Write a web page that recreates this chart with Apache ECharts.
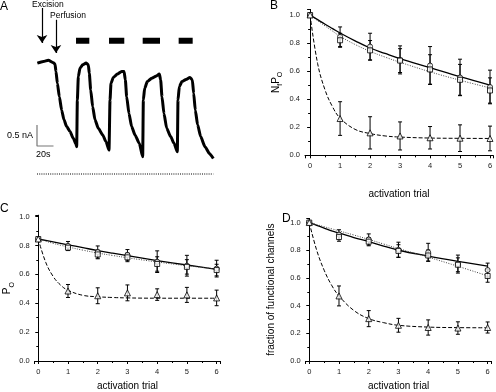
<!DOCTYPE html>
<html>
<head>
<meta charset="utf-8">
<script src="https://cdn.jsdelivr.net/npm/echarts@6/dist/echarts.min.js"></script>
<style>
html, body { margin: 0; padding: 0; background: #fff; }
#main { width: 496px; height: 392px; }
</style>
</head>
<body>
<div id="main"></div>
<script>
// ---- data ----
var trials = [0, 1, 2, 3, 4, 5, 6];
var fitX = [0, 0.25, 0.5, 0.75, 1, 1.5, 2, 2.5, 3, 4, 5, 6];

// B: NfPo
var bCircle = [1.0, 0.845, 0.775, 0.68, 0.64, 0.555, 0.487];
var bCircleErr = [0, 0.07, 0.095, 0.1, 0.135, 0.13, 0.12];
var bSquare = [1.0, 0.82, 0.748, 0.675, 0.612, 0.538, 0.462];
var bSquareErr = [0, 0.05, 0.07, 0.085, 0.105, 0.11, 0.09];
var bTri = [1.0, 0.262, 0.16, 0.138, 0.125, 0.122, 0.12];
var bTriErr = [0, 0.12, 0.115, 0.1, 0.08, 0.095, 0.088];
var bFitSolid = [1.0, 0.967, 0.934, 0.903, 0.872, 0.816, 0.765, 0.726, 0.689, 0.625, 0.56, 0.50];
var bFitDot = [1.0, 0.96, 0.922, 0.885, 0.848, 0.79, 0.741, 0.70, 0.663, 0.595, 0.535, 0.48];
var bFitDash = [1.0, 0.655, 0.465, 0.345, 0.265, 0.185, 0.155, 0.138, 0.13, 0.123, 0.121, 0.12];

// C: Po
var cCircle = [0.845, 0.798, 0.755, 0.735, 0.688, 0.66, 0.64];
var cCircleErr = [0, 0.03, 0.042, 0.037, 0.075, 0.072, 0.058];
var cSquare = [0.845, 0.785, 0.738, 0.718, 0.672, 0.652, 0.63];
var cSquareErr = [0, 0.02, 0.03, 0.03, 0.05, 0.05, 0.04];
var cTri = [0.845, 0.485, 0.452, 0.472, 0.46, 0.458, 0.437];
var cTriErr = [0, 0.045, 0.055, 0.055, 0.04, 0.052, 0.054];
var cFitSolid = [0.845, 0.835, 0.825, 0.815, 0.805, 0.785, 0.765, 0.747, 0.73, 0.696, 0.665, 0.635];
var cFitDot = [0.845, 0.83, 0.815, 0.802, 0.79, 0.768, 0.748, 0.731, 0.715, 0.686, 0.66, 0.637];
var cFitDash = [0.845, 0.684, 0.586, 0.526, 0.49, 0.455, 0.445, 0.44, 0.437, 0.435, 0.435, 0.435];

// D: fraction of functional channels
var dCircle = [1.0, 0.913, 0.878, 0.803, 0.785, 0.70, 0.657];
var dCircleErr = [0, 0.035, 0.04, 0.055, 0.065, 0.065, 0.05];
var dSquare = [1.0, 0.895, 0.862, 0.795, 0.762, 0.695, 0.614];
var dSquareErr = [0, 0.03, 0.03, 0.045, 0.04, 0.05, 0.045];
var dTri = [1.0, 0.47, 0.306, 0.258, 0.242, 0.238, 0.242];
var dTriErr = [0, 0.072, 0.058, 0.05, 0.055, 0.045, 0.04];
var dFitSolid = [1.0, 0.98, 0.96, 0.94, 0.925, 0.892, 0.862, 0.83, 0.80, 0.758, 0.72, 0.685];
var dFitDot = [1.0, 0.985, 0.97, 0.955, 0.94, 0.91, 0.878, 0.845, 0.812, 0.75, 0.684, 0.615];
var dFitDash = [1.0, 0.80, 0.656, 0.548, 0.47, 0.365, 0.306, 0.277, 0.258, 0.245, 0.241, 0.24];

// A: current trace (s, nA)
var traceT = [0.4, 7.7, 13.7, 19.8, 21.8, 23.0, 24.7, 27.1, 29.9, 32.7, 36.0, 40.0, 44.0, 47.3, 48.1,
  48.9, 50.1, 52.1, 55.4, 59.4, 62.2, 63.4, 65.1, 67.5, 70.3, 74.3, 79.6, 83.6, 87.3,
  88.5, 89.7, 92.5, 97.4, 102.6, 105.5, 107.1, 108.7, 111.5, 114.7, 118.8, 124.0, 128.1,
  128.9, 130.5, 133.7, 139.0, 144.2, 148.3, 149.9, 151.5, 153.9, 157.2, 162.0, 166.1, 170.1,
  170.9, 172.5, 175.7, 180.6, 185.4, 188.3, 189.9, 191.9, 194.7, 198.4, 203.6, 208.9, 213.7];
var traceI = [2.64, 2.68, 2.71, 2.65, 2.62, 2.44, 2.16, 1.84, 1.52, 1.29, 1.13, 1.01, 0.85, 0.71, 0.65,
  1.76, 2.32, 2.52, 2.60, 2.64, 2.60, 2.40, 2.0, 1.60, 1.29, 1.09, 0.93, 0.77, 0.57,
  1.76, 2.16, 2.30, 2.38, 2.44, 2.44, 2.24, 1.84, 1.44, 1.13, 0.93, 0.73, 0.41,
  1.76, 2.04, 2.20, 2.28, 2.33, 2.38, 2.24, 1.84, 1.44, 1.09, 0.89, 0.73, 0.53,
  1.76, 2.08, 2.20, 2.25, 2.30, 2.24, 1.92, 1.52, 1.17, 0.89, 0.65, 0.49, 0.37];
var perfOn = [47.3, 87.3, 128.1, 171.7];
var perfOff = [63.4, 105.8, 149.1, 188.7];
var barLevel = 3.17;

var FONT = 'Liberation Sans, Arial, sans-serif';

function pairs(xs, ys) {
  return xs.map(function (x, i) { return [x, ys[i]]; });
}
function errData(vals, errs) {
  var out = [];
  vals.forEach(function (v, i) {
    if (errs[i] > 0) out.push([trials[i], v - errs[i], v + errs[i]]);
  });
  return out;
}
function renderErr(params, api) {
  var x = api.value(0);
  var lo = api.coord([x, api.value(1)]);
  var hi = api.coord([x, api.value(2)]);
  var w = 2;
  var st = { stroke: '#000', lineWidth: 1 };
  return {
    type: 'group',
    children: [
      { type: 'line', shape: { x1: lo[0], y1: lo[1], x2: hi[0], y2: hi[1] }, style: st },
      { type: 'line', shape: { x1: lo[0] - w, y1: lo[1], x2: lo[0] + w, y2: lo[1] }, style: st },
      { type: 'line', shape: { x1: hi[0] - w, y1: hi[1], x2: hi[0] + w, y2: hi[1] }, style: st }
    ]
  };
}

function intLabel(v) {
  return Math.abs(v - Math.round(v)) < 1e-6 ? String(Math.round(v)) : '';
}
function fifthLabel(v) {
  return Math.abs(v * 5 - Math.round(v * 5)) < 1e-6 ? v.toFixed(1) : '';
}

var grids = [
  { left: 28.75, right: 282.45, top: 6, bottom: 209.6 },   // A
  { left: 305, right: 0, top: 9.4, bottom: 236.7 },          // B
  { left: 34.7, right: 275.8, top: 215.2, bottom: 26.7 },    // C
  { left: 305.7, right: 4.5, top: 218.4, bottom: 26.7 }      // D
];

var xAxes = [
  { gridIndex: 0, type: 'value', min: -10, max: 214, show: false }
];
var yAxes = [
  { gridIndex: 0, type: 'value', min: -0.2, max: 4.0, show: false }
];

var subRich = {
  m: { fontSize: 10, fontFamily: FONT, color: '#000', lineHeight: 10, verticalAlign: 'top' },
  s: { fontSize: 7, fontFamily: FONT, color: '#000', lineHeight: 7, padding: [6, 0, 0, 0], verticalAlign: 'top' }
};

function addPanel(gi, xmin, xmax, ymax, yName, yGap, xGap) {
  xAxes.push({
    gridIndex: gi, type: 'value', min: xmin, max: xmax, splitNumber: 6,
    name: 'activation trial', nameLocation: 'middle', nameGap: xGap,
    nameTextStyle: { fontSize: 10, fontFamily: FONT, color: '#000' },
    axisLine: { lineStyle: { color: '#000', width: 1 } },
    axisTick: { inside: false, length: 3, lineStyle: { color: '#000' } },
    minorTick: { show: true, splitNumber: 2, length: 2, lineStyle: { color: '#000' } },
    axisLabel: { fontSize: 7.5, fontFamily: FONT, color: '#222', margin: 7, formatter: intLabel },
    splitLine: { show: false }
  });
  yAxes.push({
    gridIndex: gi, type: 'value', min: 0, max: ymax, interval: 0.2,
    name: yName, nameLocation: 'middle', nameGap: yGap, nameRotate: 90,
    nameTextStyle: { fontSize: 10, fontFamily: FONT, color: '#000', rich: subRich },
    axisLine: { show: true, lineStyle: { color: '#000', width: 1 } },
    axisTick: { inside: false, length: 3, lineStyle: { color: '#000' } },
    minorTick: { show: true, splitNumber: 2, length: 2, lineStyle: { color: '#000' } },
    axisLabel: { fontSize: 7.5, fontFamily: FONT, color: '#222', margin: 5, formatter: fifthLabel },
    splitLine: { show: false }
  });
}
addPanel(1, -0.17, 6.1, 1.04, '{m|N}{s|f}{m|P}{s|O}', 24, 34);
addPanel(2, -0.12, 6.12, 1.01, '{m|P}{s|O}', 22, 20);
addPanel(3, -0.12, 6.13, 1.03, 'fraction of functional channels', 29, 20);

var series = [];

// panel A trace
series.push({
  type: 'line', xAxisIndex: 0, yAxisIndex: 0, data: pairs(traceT, traceI),
  showSymbol: false, smooth: 0.2, smoothMonotone: 'x',
  lineStyle: { color: '#000', width: 3 }, silent: true, z: 3
});
// zero-current dotted line
series.push({
  type: 'line', xAxisIndex: 0, yAxisIndex: 0, data: [[0, 0], [213.7, 0]],
  showSymbol: false, lineStyle: { color: '#000', width: 1, type: [1, 1.2] }
});
// perfusion bars
perfOn.forEach(function (t0, i) {
  series.push({
    type: 'line', xAxisIndex: 0, yAxisIndex: 0,
    data: [[t0, barLevel], [perfOff[i], barLevel]],
    showSymbol: false, lineStyle: { color: '#000', width: 6, cap: 'butt' }
  });
});
// scale bar 0.5 nA / 20 s
series.push({
  type: 'line', xAxisIndex: 0, yAxisIndex: 0,
  data: [[0, 1.167], [0, 0.667], [20, 0.667]],
  showSymbol: false, lineStyle: { color: '#777', width: 1.2 }
});
// arrows
series.push({
  type: 'lines', coordinateSystem: 'cartesian2d', xAxisIndex: 0, yAxisIndex: 0,
  symbol: ['none', 'arrow'], symbolSize: 8,
  lineStyle: { color: '#000', width: 1.2, opacity: 1 },
  data: [
    { coords: [[6.1, 3.95], [6.1, 3.12]] },
    { coords: [[23.0, 3.67], [23.0, 2.88]] }
  ]
});

function addCurves(gi, fits, sets) {
  var styles = [
    { color: '#000', width: 1.3, type: 'solid' },
    { color: '#444', width: 1, type: [1, 1.5] },
    { color: '#000', width: 1, type: [4, 2] }
  ];
  fits.forEach(function (f, k) {
    series.push({
      type: 'line', xAxisIndex: gi, yAxisIndex: gi, data: pairs(fitX, f),
      showSymbol: false, smooth: 0.4, lineStyle: styles[k], z: 2
    });
  });
  var syms = ['circle', 'rect', 'triangle'];
  sets.forEach(function (s, k) {
    series.push({
      type: 'custom', xAxisIndex: gi, yAxisIndex: gi, renderItem: renderErr,
      encode: { x: 0, y: [1, 2] }, data: errData(s[0], s[1]), z: 3
    });
    series.push({
      type: 'scatter', xAxisIndex: gi, yAxisIndex: gi, data: pairs(trials, s[0]),
      symbol: syms[k], symbolSize: k === 2 ? 6 : 5,
      itemStyle: { color: '#fff', borderColor: '#000', borderWidth: 1 }, z: 4
    });
  });
}
addCurves(1, [bFitSolid, bFitDot, bFitDash], [[bCircle, bCircleErr], [bSquare, bSquareErr], [bTri, bTriErr]]);
addCurves(2, [cFitSolid, cFitDot, cFitDash], [[cCircle, cCircleErr], [cSquare, cSquareErr], [cTri, cTriErr]]);
addCurves(3, [dFitSolid, dFitDot, dFitDash], [[dCircle, dCircleErr], [dSquare, dSquareErr], [dTri, dTriErr]]);

function txt(x, y, s, size, align) {
  return {
    type: 'text', x: x, y: y,
    style: { text: s, fontSize: size, fontFamily: FONT, fill: '#000', textAlign: align || 'left', textVerticalAlign: 'middle' }
  };
}

var chart = echarts.init(document.getElementById('main'), null, { renderer: 'canvas' });
chart.setOption({
  backgroundColor: '#fff',
  animation: false,
  grid: grids,
  xAxis: xAxes,
  yAxis: yAxes,
  series: series,
  graphic: [
    txt(0, 7, 'A', 12),
    txt(270, 6, 'B', 12),
    txt(0, 209, 'C', 12),
    txt(282, 218.5, 'D', 12),
    txt(32, 5, 'Excision', 8.5),
    txt(50, 16, 'Perfusion', 8.5),
    txt(33, 136, '0.5 nA', 9, 'right'),
    txt(36, 155, '20s', 9)
  ]
});
</script>
</body>
</html>
